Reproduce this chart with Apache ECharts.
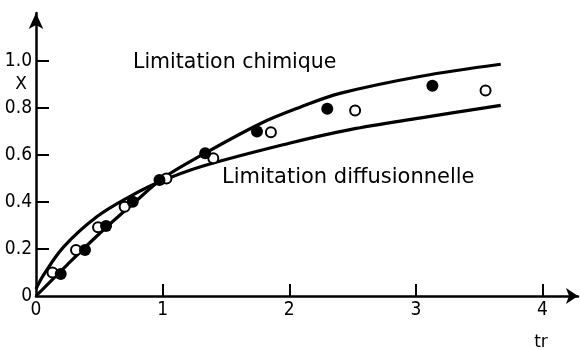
<!DOCTYPE html>
<html>
<head>
<meta charset="utf-8">
<script src="https://cdn.jsdelivr.net/npm/echarts@6/dist/echarts.min.js"></script>
<style>html,body{margin:0;padding:0;background:#fff}#c{width:580px;height:350px}</style>
</head>
<body>
<div id="c"></div>
<script>
// Curve: Limitation chimique
const chimique = [[0,0],[0.25,0.135],[0.5,0.265],[0.75,0.385],[1.0,0.5],[1.3,0.597],[1.77,0.733],[2.09,0.804],[2.4,0.862],[3.04,0.935],[3.67,0.986]];
// Curve: Limitation diffusionnelle
const diffusion = [[0,0.03],[0.06,0.09],[0.22,0.21],[0.48,0.337],[0.74,0.423],[0.95,0.48],[1.3,0.55],[2.0,0.65],[2.48,0.708],[3.04,0.758],[3.67,0.811]];
// Experimental points (filled)
const filledPts = [[0.195,0.094],[0.387,0.196],[0.553,0.298],[0.764,0.401],[0.975,0.494],[1.336,0.607],[1.745,0.70],[2.3,0.797],[3.13,0.894]];
// Experimental points (open)
const openPts = [[0.13,0.10],[0.316,0.196],[0.49,0.292],[0.70,0.38],[1.03,0.50],[1.40,0.586],[1.855,0.697],[2.52,0.789],[3.55,0.874]];
const xTicks = [0,1,2,3,4];
const yTicks = [0,0.2,0.4,0.6,0.8,1.0];

const LBL = 'DejaVu Sans Condensed';
const FONT = 'DejaVu Sans';
const chart = echarts.init(document.getElementById('c'), null, {renderer:'canvas'});
function txt(s, size){ return {text:s, fontFamily:FONT, fontSize:size, fill:'#000', verticalAlign:'middle'}; }
chart.setOption({
  animation:false,
  backgroundColor:'#fff',
  grid:{left:36, right:2, top:13, bottom:54, containLabel:false},
  xAxis:{
    type:'value', min:0, max:4.28, interval:1,
    splitLine:{show:false},
    axisLine:{show:true, onZero:false, symbol:['none','arrow'], symbolSize:[12,12], lineStyle:{color:'#000', width:2.5}},
    axisTick:{show:true, inside:true, length:12, customValues:xTicks.filter(v=>v>0), lineStyle:{color:'#000', width:2}},
    axisLabel:{customValues:xTicks, margin:5, color:'#000', fontFamily:LBL, fontSize:19, formatter:v=>String(v)}
  },
  yAxis:{
    type:'value', min:0, max:1.204, interval:0.2,
    splitLine:{show:false},
    axisLine:{show:true, onZero:false, symbol:['none','arrow'], symbolSize:[11,16], lineStyle:{color:'#000', width:2.5}},
    axisTick:{show:true, inside:true, length:13, customValues:yTicks.filter(v=>v>0), lineStyle:{color:'#000', width:2}},
    axisLabel:{customValues:yTicks, margin:4, color:'#000', fontFamily:LBL, fontSize:19, formatter:v=>v===0?'0':v.toFixed(1)}
  },
  series:[
    {type:'line', data:chimique, smooth:0.35, showSymbol:false, lineStyle:{color:'#000', width:3.2}, z:2},
    {type:'line', data:diffusion, smooth:0.35, showSymbol:false, lineStyle:{color:'#000', width:3.2}, z:2},
    {type:'scatter', data:openPts, symbol:'circle', symbolSize:10, itemStyle:{color:'#fff', borderColor:'#000', borderWidth:2, opacity:1}, z:3},
    {type:'scatter', data:filledPts, symbol:'circle', symbolSize:12, itemStyle:{color:'#000', opacity:1}, z:4}
  ],
  graphic:[
    {type:'text', x:133, y:63, style:txt('Limitation chimique', 20.5)},
    {type:'text', x:222, y:178, style:txt('Limitation diffusionnelle', 21)},
    {type:'text', x:21, y:85, style:Object.assign(txt('X', 17), {align:'center'})},
    {type:'text', x:541, y:343, style:Object.assign(txt('tr', 17), {align:'center'})}
  ]
});
</script>
</body>
</html>
